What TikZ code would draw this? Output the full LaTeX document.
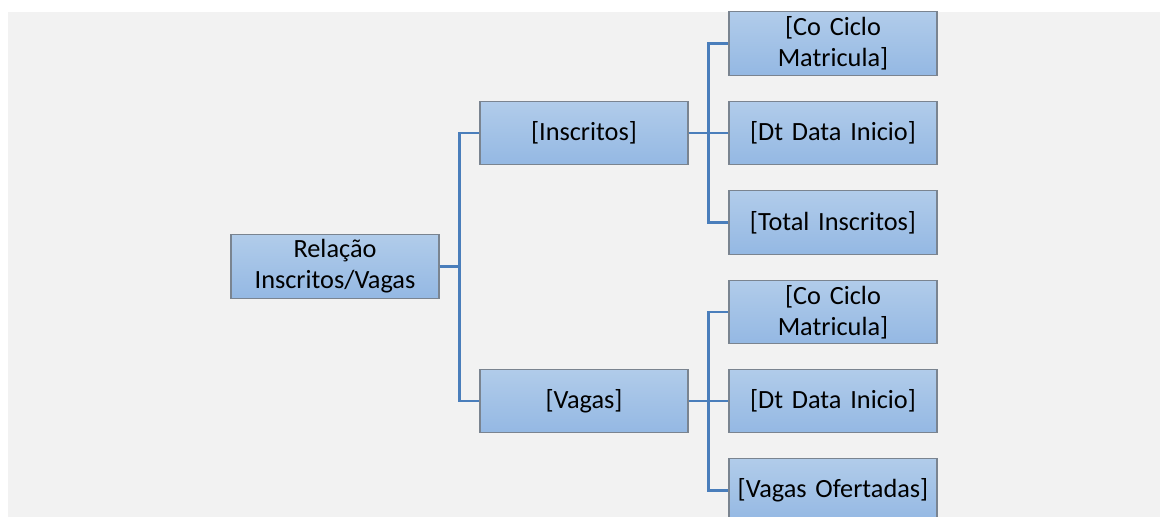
\documentclass[tikz,border=0pt]{standalone}
\usepackage{fontspec}
\setmainfont[WordSpace=0.85]{Carlito}
\definecolor{bgray}{HTML}{F2F2F2}
\definecolor{topc}{HTML}{B1CCEA}
\definecolor{botc}{HTML}{94B8E3}
\definecolor{edgec}{HTML}{7A8490}
\definecolor{linec}{HTML}{4A7EBB}
\begin{document}
\begin{tikzpicture}[x=1pt,y=-1pt,
  box/.style={rectangle, draw=edgec, line width=1.1pt, top color=topc, bottom color=botc,
    minimum width=208pt, minimum height=63.5pt, inner sep=0pt, text width=204pt, align=center,
    font=\fontsize{26.3}{31}\selectfont},
  conn/.style={draw=linec, line width=2.2pt}]
\useasboundingbox (0,0) rectangle (1160,517);
\fill[white] (0,0) rectangle (1160,517);
\fill[bgray] (8,12) rectangle (1160,517);
\node[box] (root) at (335,266.5) {Relação\\Inscritos/Vagas};
\node[box] (ins) at (584,133) {[Inscritos]};
\node[box] (vag) at (584,401) {[Vagas]};
\node[box] (a1) at (833,43.5) {[Co Ciclo\\Matricula]};
\node[box] (a2) at (833,133) {[Dt Data Inicio]};
\node[box] (a3) at (833,222.5) {[Total Inscritos]};
\node[box] (b1) at (833,312) {[Co Ciclo\\Matricula]};
\node[box] (b2) at (833,401) {[Dt Data Inicio]};
\node[box] (b3) at (833,490.5) {[Vagas Ofertadas]};
\draw[conn] (root.east) -- ++(20,0) |- (ins.west);
\draw[conn] (root.east) -- ++(20,0) |- (vag.west);
\foreach \t in {a1,a2,a3} \draw[conn] (ins.east) -- ++(20,0) |- (\t.west);
\foreach \t in {b1,b2,b3} \draw[conn] (vag.east) -- ++(20,0) |- (\t.west);
\end{tikzpicture}
\end{document}
